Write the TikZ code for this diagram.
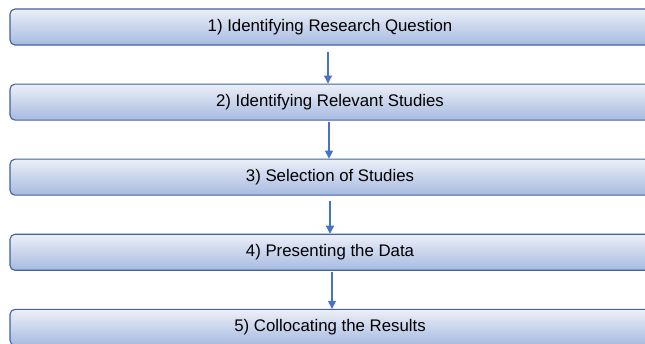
\documentclass[tikz,border=0pt]{standalone}
\usepackage{fontspec}
\setmainfont{Liberation Sans}
\usetikzlibrary{arrows.meta,positioning}
\definecolor{boxtop}{RGB}{236,239,248}
\definecolor{boxbot}{RGB}{166,186,224}
\definecolor{boxrule}{RGB}{66,98,160}
\definecolor{flow}{RGB}{72,114,200}

\begin{document}
\begin{tikzpicture}[
  x=1pt, y=1pt,
  font=\fontsize{16.8}{20}\selectfont,
  node distance=38pt,
  stepbox/.style={draw=boxrule, top color=boxtop, bottom color=boxbot,
    rounded corners=5pt, line width=1.1pt, minimum width=640pt,
    minimum height=36pt, inner sep=0pt, text=black},
  arr/.style={-{Triangle[length=8pt,width=8pt]}, color=flow, line width=1.1pt}
]
\useasboundingbox (0,0) rectangle (645,-344);
\clip (0,0) rectangle (645,-344);
\node[stepbox] (q) at (330,-27) {1) Identifying Research Question};
\node[stepbox, below=of q] (r) {2) Identifying Relevant Studies};
\node[stepbox, below=of r] (s) {3) Selection of Studies};
\node[stepbox, below=of s] (d) {4) Presenting the Data};
\node[stepbox, below=of d] (c) {5) Collocating the Results};
\draw[arr] ([xshift=-2pt,yshift=-6pt]q.south) -- ([xshift=-2pt]r.north);
\draw[arr] ([xshift=-1pt,yshift=-1pt]r.south) -- ([xshift=-1pt]s.north);
\draw[arr] ([yshift=-5pt]s.south) -- (d.north);
\draw[arr] ([xshift=2pt,yshift=-1pt]d.south) -- ([xshift=2pt]c.north);
\end{tikzpicture}
\end{document}
